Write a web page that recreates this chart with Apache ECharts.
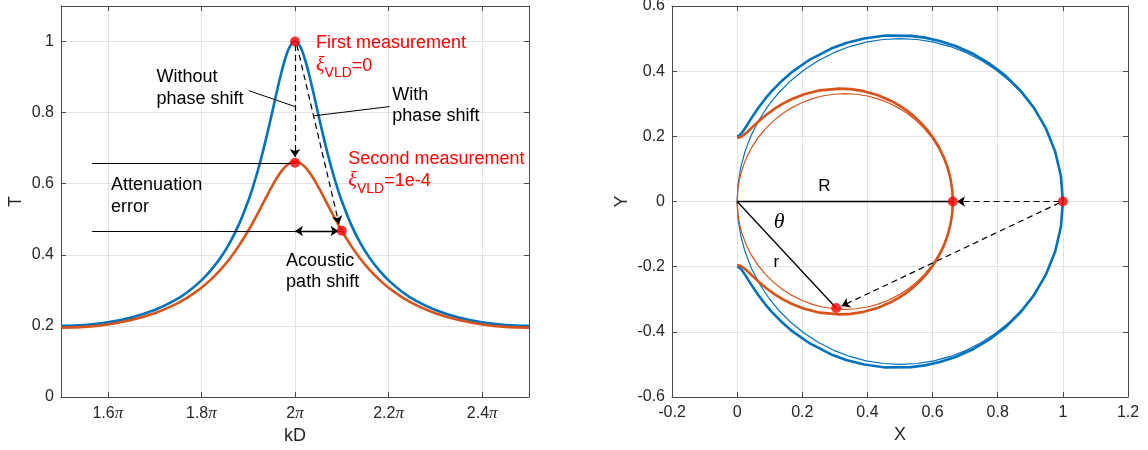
<!DOCTYPE html>
<html><head><meta charset="utf-8">
<script src="https://cdn.jsdelivr.net/npm/echarts@6/dist/echarts.min.js"></script>
<style>html,body{margin:0;padding:0;background:#fff}#c{width:1148px;height:450px}</style>
</head><body><div id="c"></div>
<script>
// ---------- data: left panel (kD in units of pi, T) ----------
const kdOverPi = [1.5,1.55,1.6,1.65,1.7,1.74,1.77,1.8,1.82,1.84,1.86,1.88,1.9,1.91,1.92,1.93,1.94,1.95,1.96,1.97,1.98,1.99,2,2.01,2.02,2.03,2.04,2.05,2.06,2.07,2.08,2.09,2.1,2.12,2.14,2.16,2.18,2.2,2.23,2.26,2.3,2.35,2.4,2.45,2.5];
const tBlue = [0.2,0.2024,0.2099,0.2233,0.2446,0.2697,0.2949,0.3281,0.356,0.3901,0.4323,0.4849,0.5512,0.5905,0.6344,0.6833,0.7367,0.7937,0.8522,0.9081,0.9558,0.9884,1,0.9884,0.9558,0.9081,0.8522,0.7937,0.7367,0.6833,0.6344,0.5905,0.5512,0.4849,0.4323,0.3901,0.356,0.3281,0.2949,0.2697,0.2446,0.2233,0.2099,0.2024,0.2];
const tOrange = [0.1951,0.1973,0.2042,0.2165,0.2358,0.2579,0.2798,0.3076,0.3302,0.3569,0.3883,0.4252,0.4677,0.491,0.5154,0.5406,0.5659,0.5906,0.6135,0.6334,0.6489,0.6588,0.6623,0.6588,0.6489,0.6334,0.6135,0.5906,0.5659,0.5406,0.5154,0.491,0.4677,0.4252,0.3883,0.3569,0.3302,0.3076,0.2798,0.2579,0.2358,0.2165,0.2042,0.1973,0.1951];
const xTicksPi = [1.6,1.8,2,2.2,2.4];
const leftDotKd = [2, 2, 2.1];
const leftDotT = [1.0, 0.659, 0.468];
const leftSolidSegs = [[[1.566,0.658],[2,0.658]],[[1.566,0.467],[2.1,0.467]],[[1.901,0.862],[2.0,0.817]],[[2.202,0.817],[2.04,0.791]]];
const leftDashedArrows = [[[2.0,0.99],[2.0,0.675]],[[2.004,0.99],[2.094,0.487]]];
const leftDoubleArrow = [[[2.0,0.467],[2.093,0.467]]];

// ---------- data: right panel (X, Y) ----------
const blueX = [0,0.0064,0.0136,0.0226,0.0352,0.0498,0.0653,0.0871,0.107,0.1334,0.1691,0.2187,0.2889,0.3348,0.3899,0.4556,0.5331,0.5763,0.6222,0.6705,0.7205,0.7711,0.8211,0.8686,0.9118,0.9484,0.9764,0.994,1,
  0.994,0.9764,0.9484,0.9118,0.8686,0.8211,0.7711,0.7205,0.6705,0.6222,0.5763,0.5331,0.4556,0.3899,0.3348,0.2889,0.2187,0.1691,0.1334,0.107,0.0871,0.0653,0.0498,0.0352,0.0226,0.0136,0.0064,0];
const blueY = [0.2,0.2023,0.2094,0.2222,0.2421,0.265,0.2876,0.3163,0.3395,0.3666,0.3979,0.4329,0.4694,0.4864,0.5005,0.5092,0.5084,0.5029,0.4928,0.4772,0.4551,0.4257,0.3881,0.3418,0.2868,0.2236,0.1534,0.0781,0,
  -0.0781,-0.1534,-0.2236,-0.2868,-0.3418,-0.3881,-0.4257,-0.4551,-0.4772,-0.4928,-0.5029,-0.5084,-0.5092,-0.5005,-0.4864,-0.4694,-0.4329,-0.3979,-0.3666,-0.3395,-0.3163,-0.2876,-0.265,-0.2421,-0.2222,-0.2094,-0.2023,-0.2];
const orangeX = [0,0.0092,0.0195,0.0321,0.0493,0.0688,0.0887,0.1156,0.139,0.1686,0.206,0.2538,0.3141,0.3496,0.3885,0.4306,0.475,0.4976,0.5201,0.5423,0.5638,0.5842,0.6031,0.62,0.6346,0.6464,0.6551,0.6605,0.6623,
  0.6605,0.6551,0.6464,0.6346,0.62,0.6031,0.5842,0.5638,0.5423,0.5201,0.4976,0.475,0.4306,0.3885,0.3496,0.3141,0.2538,0.206,0.1686,0.139,0.1156,0.0887,0.0688,0.0493,0.0321,0.0195,0.0092,0];
const orangeY = [0.1951,0.1971,0.2033,0.2141,0.2306,0.2486,0.2654,0.285,0.2995,0.3146,0.3292,0.3411,0.3465,0.3448,0.3387,0.3268,0.3076,0.2948,0.2797,0.262,0.2418,0.219,0.1935,0.1657,0.1356,0.1035,0.0699,0.0352,0,
  -0.0352,-0.0699,-0.1035,-0.1356,-0.1657,-0.1935,-0.219,-0.2418,-0.262,-0.2797,-0.2948,-0.3076,-0.3268,-0.3387,-0.3448,-0.3465,-0.3411,-0.3292,-0.3146,-0.2995,-0.285,-0.2654,-0.2486,-0.2306,-0.2141,-0.2033,-0.1971,-0.1951];
const blueCircX = [1,0.99726,0.98907,0.97553,0.95677,0.93301,0.90451,0.87157,0.83457,0.79389,0.75,0.70337,0.65451,0.60396,0.55226,0.5,0.44774,0.39604,0.34549,0.29663,0.25,0.20611,0.16543,0.12843,0.09549,0.06699,0.04323,0.02447,0.01093,0.00274,0,
  0.00274,0.01093,0.02447,0.04323,0.06699,0.09549,0.12843,0.16543,0.20611,0.25,0.29663,0.34549,0.39604,0.44774,0.5,0.55226,0.60396,0.65451,0.70337,0.75,0.79389,0.83457,0.87157,0.90451,0.93301,0.95677,0.97553,0.98907,0.99726,1];
const blueCircY = [0,0.05226,0.10396,0.15451,0.20337,0.25,0.29389,0.33457,0.37157,0.40451,0.43301,0.45677,0.47553,0.48907,0.49726,0.5,0.49726,0.48907,0.47553,0.45677,0.43301,0.40451,0.37157,0.33457,0.29389,0.25,0.20337,0.15451,0.10396,0.05226,0,
  -0.05226,-0.10396,-0.15451,-0.20337,-0.25,-0.29389,-0.33457,-0.37157,-0.40451,-0.43301,-0.45677,-0.47553,-0.48907,-0.49726,-0.5,-0.49726,-0.48907,-0.47553,-0.45677,-0.43301,-0.40451,-0.37157,-0.33457,-0.29389,-0.25,-0.20337,-0.15451,-0.10396,-0.05226,0];
const orangeCircX = [0.662,0.66019,0.65477,0.6458,0.63339,0.61766,0.59879,0.57698,0.55248,0.52556,0.4965,0.46563,0.43329,0.39982,0.3656,0.331,0.2964,0.26218,0.22871,0.19637,0.1655,0.13644,0.10952,0.08502,0.06321,0.04434,0.02861,0.0162,0.00723,0.00181,0,
  0.00181,0.00723,0.0162,0.02861,0.04434,0.06321,0.08502,0.10952,0.13644,0.1655,0.19637,0.22871,0.26218,0.2964,0.331,0.3656,0.39982,0.43329,0.46563,0.4965,0.52556,0.55248,0.57698,0.59879,0.61766,0.63339,0.6458,0.65477,0.66019,0.662];
const orangeCircY = [0,0.0346,0.06882,0.10229,0.13463,0.1655,0.19456,0.22148,0.24598,0.26779,0.28666,0.3024,0.3148,0.32377,0.32919,0.331,0.32919,0.32377,0.3148,0.3024,0.28666,0.26779,0.24598,0.22148,0.19456,0.1655,0.13463,0.10229,0.06882,0.0346,0,
  -0.0346,-0.06882,-0.10229,-0.13463,-0.1655,-0.19456,-0.22148,-0.24598,-0.26779,-0.28666,-0.3024,-0.3148,-0.32377,-0.32919,-0.331,-0.32919,-0.32377,-0.3148,-0.3024,-0.28666,-0.26779,-0.24598,-0.22148,-0.19456,-0.1655,-0.13463,-0.10229,-0.06882,-0.0346,0];
const rightDotX = [1.0, 0.662, 0.304];
const rightDotY = [0.0, 0.0, -0.327];
const rightSolidSegs = [[[0,0],[0.662,0]],[[0,0],[0.304,-0.327]]];
const rightDashedArrows = [[[0.99,0],[0.675,0]],[[0.99,-0.004],[0.321,-0.321]]];

// ---------- styles ----------
const FONT = '"Liberation Sans", Arial, Helvetica, sans-serif';
const SERIF = '"Liberation Serif", "DejaVu Serif", serif';
const AX = '#4a4a4a', GRIDC = '#e3e3e3', TXT = '#262626';
const BLUE = '#0072BD', ORANGE = '#D95319', RED = '#FF0000';
const TICK_FS = 16, NAME_FS = 18, ANN_FS = 18;
const DASH = [6, 4];

const zip = (a, b) => a.map((v, i) => [v, b[i]]);

function baseAxis(o) {
  return Object.assign({
    type: 'value',
    axisLine: { show: true, onZero: false, lineStyle: { color: AX, width: 1 } },
    axisTick: { show: true, inside: true, length: 5, lineStyle: { color: AX, width: 1 } },
    axisLabel: { show: true, color: TXT, fontSize: TICK_FS, fontFamily: FONT, margin: 7 },
    splitLine: { show: false },
    nameTextStyle: { color: TXT, fontSize: NAME_FS, fontFamily: FONT },
    nameLocation: 'middle'
  }, o);
}
function mirror(o) {
  return baseAxis(Object.assign({ axisLabel: { show: false }, splitLine: { show: false } }, o));
}

const option = {
  animation: false,
  backgroundColor: '#fff',
  grid: [
    { left: 61, right: 619, top: 6, bottom: 53, outerBoundsMode: 'none' },
    { left: 672, right: 20, top: 6, bottom: 53, outerBoundsMode: 'none' }
  ],
  xAxis: [
    baseAxis({ gridIndex: 0, min: 1.5, max: 2.5, position: 'bottom', name: 'kD', nameGap: 25,
      axisTick: { show: true, inside: true, length: 5, customValues: xTicksPi, lineStyle: { color: AX } },
      axisLabel: { show: true, customValues: xTicksPi, margin: 8,
        formatter: v => '{n|' + (Math.round(v * 10) / 10) + '}{p|π}',
        rich: { n: { fontSize: TICK_FS, fontFamily: FONT, color: TXT }, p: { fontSize: 17, fontFamily: SERIF, fontStyle: 'italic', color: TXT } } },
      splitLine: { show: true, lineStyle: { color: GRIDC, width: 1 } } }),
    mirror({ gridIndex: 0, min: 1.5, max: 2.5, position: 'top',
      axisTick: { show: true, inside: true, length: 5, customValues: xTicksPi, lineStyle: { color: AX } } }),
    baseAxis({ gridIndex: 1, min: -0.2, max: 1.2, interval: 0.2, position: 'bottom', name: 'X', nameGap: 25,
      axisLabel: { show: true, color: TXT, fontSize: TICK_FS, fontFamily: FONT, margin: 8 },
      splitLine: { show: true, lineStyle: { color: GRIDC, width: 1 } } }),
    mirror({ gridIndex: 1, min: -0.2, max: 1.2, interval: 0.2, position: 'top' })
  ],
  yAxis: [
    baseAxis({ gridIndex: 0, min: 0, max: 1.1, interval: 0.2, position: 'left', name: 'T', nameGap: 36,
      axisLabel: { show: true, color: TXT, fontSize: TICK_FS, fontFamily: FONT, margin: 7, showMaxLabel: false },
      splitLine: { show: true, lineStyle: { color: GRIDC, width: 1 } } }),
    mirror({ gridIndex: 0, min: 0, max: 1.1, interval: 0.2, position: 'right' }),
    baseAxis({ gridIndex: 1, min: -0.6, max: 0.6, interval: 0.2, position: 'left', name: 'Y', nameGap: 41,
      splitLine: { show: true, lineStyle: { color: GRIDC, width: 1 } } }),
    mirror({ gridIndex: 1, min: -0.6, max: 0.6, interval: 0.2, position: 'right' })
  ],
  series: [
    // left panel
    { type: 'line', xAxisIndex: 0, yAxisIndex: 0, data: zip(kdOverPi, tBlue), showSymbol: false, smooth: 0.3,
      lineStyle: { color: BLUE, width: 2.6 }, silent: true, z: 2 },
    { type: 'line', xAxisIndex: 0, yAxisIndex: 0, data: zip(kdOverPi, tOrange), showSymbol: false, smooth: 0.3,
      lineStyle: { color: ORANGE, width: 2.6 }, silent: true, z: 2 },
    { type: 'lines', coordinateSystem: 'cartesian2d', xAxisIndex: 0, yAxisIndex: 0, polyline: false,
      symbol: ['none', 'none'], lineStyle: { color: '#000', width: 1, opacity: 1 },
      data: leftSolidSegs.map(s => ({ coords: s })), silent: true, z: 3 },
    { type: 'lines', coordinateSystem: 'cartesian2d', xAxisIndex: 0, yAxisIndex: 0, polyline: false,
      symbol: ['none', 'arrow'], symbolSize: 8, lineStyle: { color: '#000', width: 1.2, opacity: 1, type: DASH },
      data: leftDashedArrows.map(s => ({ coords: s })), silent: true, z: 3 },
    { type: 'lines', coordinateSystem: 'cartesian2d', xAxisIndex: 0, yAxisIndex: 0, polyline: false,
      symbol: ['arrow', 'arrow'], symbolSize: 8, lineStyle: { color: '#000', width: 1.3, opacity: 1 },
      data: leftDoubleArrow.map(s => ({ coords: s })), silent: true, z: 3 },
    { type: 'scatter', xAxisIndex: 0, yAxisIndex: 0, data: zip(leftDotKd, leftDotT), symbolSize: 10,
      itemStyle: { color: RED }, silent: true, z: 5 },
    // right panel
    { type: 'line', xAxisIndex: 2, yAxisIndex: 2, data: zip(blueCircX, blueCircY), showSymbol: false, smooth: false,
      lineStyle: { color: BLUE, width: 1.2 }, silent: true, z: 2 },
    { type: 'line', xAxisIndex: 2, yAxisIndex: 2, data: zip(blueX, blueY), showSymbol: false, smooth: false,
      lineStyle: { color: BLUE, width: 2.6, join: 'round' }, silent: true, z: 2 },
    { type: 'line', xAxisIndex: 2, yAxisIndex: 2, data: zip(orangeCircX, orangeCircY), showSymbol: false, smooth: false,
      lineStyle: { color: ORANGE, width: 1.2 }, silent: true, z: 2 },
    { type: 'line', xAxisIndex: 2, yAxisIndex: 2, data: zip(orangeX, orangeY), showSymbol: false, smooth: false,
      lineStyle: { color: ORANGE, width: 2.6, join: 'round' }, silent: true, z: 2 },
    { type: 'lines', coordinateSystem: 'cartesian2d', xAxisIndex: 2, yAxisIndex: 2, polyline: false,
      symbol: ['none', 'none'], lineStyle: { color: '#000', width: 1.3, opacity: 1 },
      data: rightSolidSegs.map(s => ({ coords: s })), silent: true, z: 3 },
    { type: 'lines', coordinateSystem: 'cartesian2d', xAxisIndex: 2, yAxisIndex: 2, polyline: false,
      symbol: ['none', 'arrow'], symbolSize: 8, lineStyle: { color: '#000', width: 1.2, opacity: 1, type: DASH },
      data: rightDashedArrows.map(s => ({ coords: s })), silent: true, z: 3 },
    { type: 'scatter', xAxisIndex: 2, yAxisIndex: 2, data: zip(rightDotX, rightDotY), symbolSize: 10,
      itemStyle: { color: RED }, silent: true, z: 5 }
  ]
};

const chart = echarts.init(document.getElementById('c'), null, { renderer: 'canvas' });
chart.setOption(option);

// ---------- annotation texts (anchored in data coordinates) ----------
const xiRich = {
  xi: { fontFamily: SERIF, fontStyle: 'italic', fontSize: 20, fill: RED, lineHeight: 22 },
  sub: { fontFamily: FONT, fontSize: 14, fill: RED, padding: [15, 0, 0, 0], lineHeight: 22 },
  eq: { fontFamily: FONT, fontSize: ANN_FS, fill: RED, lineHeight: 22 }
};
const annPanel = [0,0,0,0,0,0,0,0,0,0,0,0,1,1,1];
const annX = [1.704,1.704,2.208,2.208,2.045,2.045,2.114,2.114,1.607,1.607,1.981,1.981,0.268,0.129,0.12];
const annY = [0.900,0.837,0.850,0.790,0.995,0.932,0.669,0.607,0.596,0.535,0.382,0.324,0.048,-0.063,-0.186];
const annText = ['Without','phase shift','With','phase shift','First measurement','{xi|ξ}{sub|VLD}{eq|=0}',
  'Second measurement','{xi|ξ}{sub|VLD}{eq|=1e-4}','Attenuation','error','Acoustic','path shift','R','θ','r'];
const annKind = ['b','b','b','b','r','x','r','x','b','b','b','b','c','t','c'];

const graphics = annText.map((t, i) => {
  const ax = annPanel[i] === 0 ? 0 : 2;
  const p = chart.convertToPixel({ xAxisIndex: ax, yAxisIndex: ax }, [annX[i], annY[i]]);
  const k = annKind[i];
  const style = { text: t, fill: '#000', fontSize: ANN_FS, fontFamily: FONT, align: 'left', verticalAlign: 'middle',
                  textAlign: 'left', textVerticalAlign: 'middle' };
  if (k === 'r') style.fill = RED;
  if (k === 'x') { style.rich = xiRich; style.fill = RED; }
  if (k === 'c') { style.align = 'center'; style.textAlign = 'center'; style.fontSize = 17; }
  if (k === 't') { style.align = 'center'; style.textAlign = 'center'; style.fontSize = 22; style.fontFamily = SERIF; style.fontStyle = 'italic'; }
  return { type: 'text', x: p[0], y: p[1], z: 100, silent: true, style };
});
chart.setOption({ graphic: graphics });
</script>
</body></html>
